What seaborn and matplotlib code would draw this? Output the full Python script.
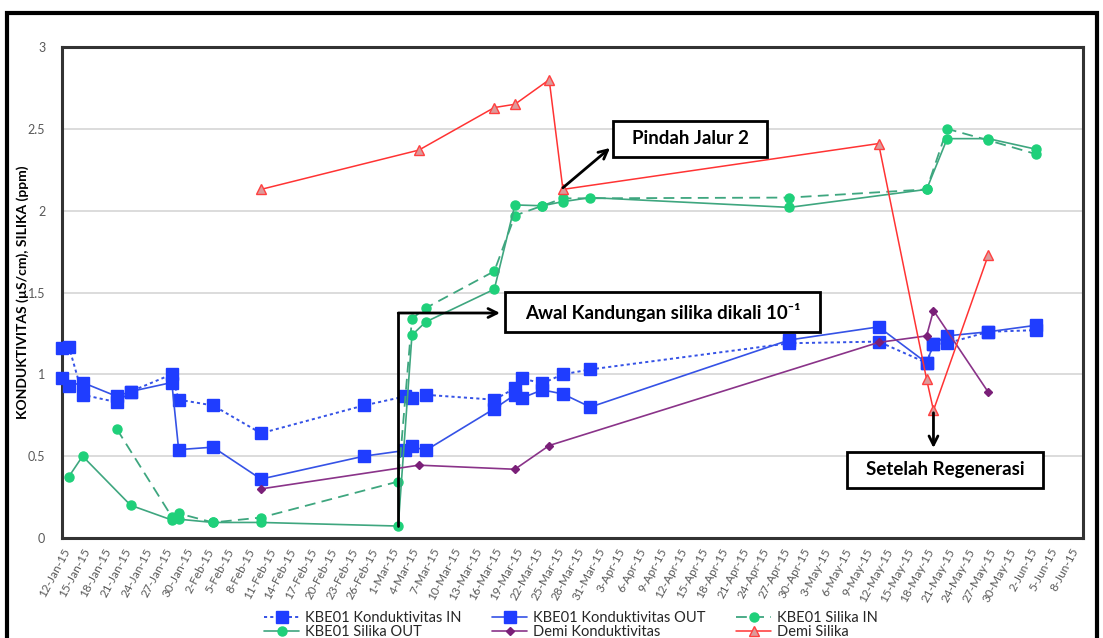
import numpy as np
import pandas as pd
import matplotlib
matplotlib.use("Agg")
import matplotlib.pyplot as plt
import matplotlib.dates as mdates
from matplotlib.patches import Rectangle
import seaborn as sns

# ---------------- data ----------------
kond_dates = ["2015-01-12", "2015-01-13", "2015-01-15", "2015-01-20", "2015-01-22",
              "2015-01-28", "2015-01-29", "2015-02-03", "2015-02-10", "2015-02-25",
              "2015-03-03", "2015-03-04", "2015-03-06", "2015-03-16", "2015-03-19",
              "2015-03-20", "2015-03-23", "2015-03-26", "2015-03-30", "2015-04-28",
              "2015-05-11", "2015-05-18", "2015-05-19", "2015-05-21", "2015-05-27",
              "2015-06-03"]
kond_in = [1.16, 1.17, 0.875, 0.83, 0.895, 1.00, 0.845, 0.81, 0.64, 0.81,
           0.865, 0.855, 0.875, 0.845, 0.915, 0.975, 0.945, 1.00, 1.03, 1.19,
           1.20, 1.07, 1.185, 1.19, 1.26, 1.27]
kond_out = [0.98, 0.93, 0.95, 0.865, 0.895, 0.95, 0.54, 0.555, 0.36, 0.50,
            0.535, 0.56, 0.535, 0.79, 0.875, 0.855, 0.905, 0.88, 0.80, 1.21,
            1.29, 1.07, 1.185, 1.235, 1.26, 1.30]

silika_out_dates = ["2015-01-13", "2015-01-15", "2015-01-22", "2015-01-28", "2015-01-29",
                    "2015-02-03", "2015-02-10", "2015-03-02", "2015-03-04", "2015-03-06",
                    "2015-03-16", "2015-03-19", "2015-03-23", "2015-03-26", "2015-03-30",
                    "2015-04-28", "2015-05-18", "2015-05-21", "2015-05-27", "2015-06-03"]
silika_out = [0.375, 0.50, 0.20, 0.11, 0.115, 0.095, 0.095, 0.073, 1.24, 1.32,
              1.52, 2.035, 2.03, 2.055, 2.08, 2.02, 2.13, 2.44, 2.44, 2.375]

silika_in_dates = ["2015-01-20", "2015-01-28", "2015-01-29", "2015-02-03", "2015-02-10",
                   "2015-03-02", "2015-03-04", "2015-03-06", "2015-03-16", "2015-03-19",
                   "2015-03-23", "2015-03-26", "2015-04-28", "2015-05-18", "2015-05-21",
                   "2015-05-27", "2015-06-03"]
silika_in = [0.665, 0.13, 0.15, 0.095, 0.125, 0.345, 1.34, 1.405, 1.63, 1.97,
             2.03, 2.075, 2.08, 2.13, 2.50, 2.43, 2.345]

demi_dates = ["2015-02-10", "2015-03-05", "2015-03-19", "2015-03-24", "2015-05-11",
              "2015-05-18", "2015-05-19", "2015-05-27"]
demi_kond = [0.30, 0.445, 0.42, 0.565, 1.195, 1.235, 1.39, 0.89]

demi_silika_dates = ["2015-02-10", "2015-03-05", "2015-03-16", "2015-03-19", "2015-03-24",
                     "2015-03-26", "2015-05-11", "2015-05-18", "2015-05-19", "2015-05-27"]
demi_silika = [2.13, 2.37, 2.63, 2.65, 2.80, 2.13, 2.41, 0.97, 0.78, 1.73]

y_ticks = [0, 0.5, 1, 1.5, 2, 2.5, 3]
y_label = "KONDUKTIVITAS (µS/cm), SILIKA (ppm)"
labels = ["KBE01 Konduktivitas IN", "KBE01 Konduktivitas OUT", "KBE01 Silika IN",
          "KBE01 Silika OUT", "Demi Konduktivitas", "Demi Silika"]
notes = ["Pindah Jalur 2", "Awal Kandungan silika dikali 10⁻¹", "Setelah Regenerasi"]

# ---------------- style ----------------
sns.set_theme(style="white")
plt.rcParams["font.family"] = ["Lato", "DejaVu Sans"]

W, H = 1103, 638
fig = plt.figure(figsize=(W / 100, H / 100), dpi=100)
ax_l, ax_r, ax_t, ax_b = 62, 1083, 47, 538
ax = fig.add_axes([ax_l / W, 1 - ax_b / H, (ax_r - ax_l) / W, (ax_b - ax_t) / H])

def draw(dates, vals, label, color, lcolor, marker, ms, ls, lw, mfc=None, mec=None, z=3):
    sns.lineplot(x=pd.to_datetime(dates), y=vals, ax=ax, estimator=None, sort=False,
                 label=label, color=lcolor, linestyle=ls, linewidth=lw,
                 marker=marker, markersize=ms,
                 markerfacecolor=mfc or color, markeredgecolor=mec or color,
                 markeredgewidth=1.0, zorder=z, clip_on=False)

blue_m = "#1f3dff"
blue_l = "#3552e6"
green_m = "#1fd07a"
green_l = "#3ea67f"

draw(kond_dates, kond_in, labels[0], blue_m, blue_l, "s", 8.5, (0, (1.6, 1.6)), 1.4)
draw(kond_dates, kond_out, labels[1], blue_m, blue_l, "s", 8.5, "-", 1.2)
draw(silika_in_dates, silika_in, labels[2], green_m, green_l, "o", 6.5, (0, (6, 3.5)), 1.3)
draw(silika_out_dates, silika_out, labels[3], green_m, green_l, "o", 6.5, "-", 1.2)
draw(demi_dates, demi_kond, labels[4], "#7a1f78", "#8a3389", "D", 4.5, "-", 1.2)
draw(demi_silika_dates, demi_silika, labels[5], "#ff3b3b", "#ff3333", "^", 7.5, "-", 1.1,
     mfc="#dd9a9a", mec="#ff4040")

# axes
x0 = pd.Timestamp("2015-01-12")
ax.set_xlim(x0, pd.Timestamp("2015-06-09 19:00"))
ax.set_ylim(0, 3)
ax.set_yticks(y_ticks)
ax.set_yticklabels(["0", "0.5", "1", "1.5", "2", "2.5", "3"])
xt = pd.date_range("2015-01-12", "2015-06-08", freq="3D")
ax.set_xticks(xt)
ax.set_xticklabels([f"{d.day}-{d.strftime('%b')}-15" for d in xt],
                   rotation=62, ha="right", rotation_mode="anchor")
ax.tick_params(axis="x", length=0, pad=6, labelsize=8.5, labelcolor="#595959")
ax.tick_params(axis="y", length=0, pad=12, labelsize=9, labelcolor="#595959")
ax.set_xlabel("")
ax.set_ylabel("")
ax.yaxis.grid(True, color="#d9d9d9", linewidth=1.3)
ax.xaxis.grid(False)
ax.set_axisbelow(True)
for s in ax.spines.values():
    s.set_color("#333333")
    s.set_linewidth(2.2)

fig.text(23 / W, 1 - 292 / H, y_label, rotation=90, ha="center", va="center",
         fontsize=10, fontweight="bold", color="black")

# legend (row-major order)
h, l = ax.get_legend_handles_labels()
ax.get_legend().remove()
order = [0, 3, 1, 4, 2, 5]
fig.legend([h[i] for i in order], [l[i] for i in order], ncol=3, loc="center",
           bbox_to_anchor=(571 / W, 1 - 625 / H), frameon=False, fontsize=10.5,
           handlelength=2.4, columnspacing=2.1, labelspacing=0.05, handletextpad=0.4,
           borderpad=0)

# annotation boxes (axes fraction)
def px2ax(x, y):
    return (x - ax_l) / (ax_r - ax_l), (ax_b - y) / (ax_b - ax_t)

def box(x1, y1, x2, y2, text):
    a1 = px2ax(x1, y2)
    a2 = px2ax(x2, y1)
    ax.add_patch(Rectangle(a1, a2[0] - a1[0], a2[1] - a1[1], transform=ax.transAxes,
                           facecolor="white", edgecolor="black", linewidth=2, zorder=10,
                           clip_on=False))
    ax.text((a1[0] + a2[0]) / 2, (a1[1] + a2[1]) / 2, text, transform=ax.transAxes,
            ha="center", va="center", fontsize=13.5, fontweight="bold", color="black",
            zorder=11)

box(613, 121, 767, 157, notes[0])
box(505, 292, 820, 332, notes[1])
box(847, 452, 1043, 488, notes[2])

arrow = dict(arrowstyle="->", lw=2, color="black", mutation_scale=16, shrinkA=0, shrinkB=0)
ax.annotate("", xy=px2ax(610, 148), xycoords="axes fraction",
            xytext=(pd.Timestamp("2015-03-26"), 2.14), textcoords="data",
            arrowprops=arrow, zorder=12)
yv = (ax_b - 313) / (ax_b - ax_t) * 3
ax.plot([pd.Timestamp("2015-03-02"), pd.Timestamp("2015-03-02")], [0.073, yv],
        color="black", lw=2, zorder=9)
ax.annotate("", xy=(px2ax(500, 313)[0], yv), xycoords=("axes fraction", "data"),
            xytext=(pd.Timestamp("2015-03-02"), yv), textcoords="data",
            arrowprops=arrow, zorder=12)
ax.annotate("", xy=(pd.Timestamp("2015-05-19"), 0.55), xycoords="data",
            xytext=(pd.Timestamp("2015-05-19"), 0.765), textcoords="data",
            arrowprops=arrow, zorder=12)

# outer frame
fig.patches.append(Rectangle((7 / W, -0.05), (1097 - 7) / W, 1 - 13 / H + 0.05,
                             transform=fig.transFigure, fill=False, edgecolor="black",
                             linewidth=3, zorder=0))

fig.savefig("out.png", dpi=100)
